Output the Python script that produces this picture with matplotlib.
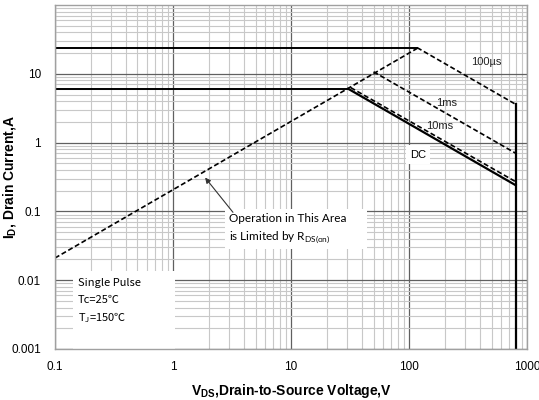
import numpy as np
import matplotlib.pyplot as plt
from matplotlib.patches import Rectangle
from matplotlib.ticker import LogLocator, FixedLocator, NullFormatter

# SOA curves (V, A)
rds_v = [0.1, 120]
rds_i = [0.021, 24]

flat_pulse_v = [0.1, 117]
flat_pulse_i = [24, 24]
flat_dc_v = [0.1, 30.5]
flat_dc_i = [6.05, 6.05]

us100_v = [117, 800]
us100_i = [24, 3.6]
ms1_v = [50, 800]
ms1_i = [10.7, 0.70]
ms10_v = [32, 800]
ms10_i = [6.3, 0.27]
dc_v = [30.5, 800]
dc_i = [6.05, 0.24]

vmax_v = [800, 800]
vmax_i = [3.6, 0.001]

x_ticks = [0.1, 1, 10, 100, 1000]
x_labels = ['0.1', '1', '10', '100', '1000']
y_ticks = [0.001, 0.01, 0.1, 1, 10]
y_labels = ['0.001', '0.01', '0.1', '1', '10']

fig = plt.figure(figsize=(5.39, 4.0), dpi=100)
ax = fig.add_axes([0.102, 0.1275, 0.876, 0.86])
ax.set_xscale('log')
ax.set_yscale('log')
ax.set_xlim(0.1, 1000)
ax.set_ylim(0.001, 100)

ax.xaxis.set_major_locator(FixedLocator(x_ticks))
ax.set_xticklabels(x_labels)
ax.yaxis.set_major_locator(FixedLocator(y_ticks))
ax.set_yticklabels(y_labels)
ax.xaxis.set_minor_locator(LogLocator(base=10, subs=np.arange(2, 10)))
ax.yaxis.set_minor_locator(LogLocator(base=10, subs=np.arange(2, 10)))
ax.xaxis.set_minor_formatter(NullFormatter())
ax.yaxis.set_minor_formatter(NullFormatter())
ax.tick_params(which='both', length=0, labelsize=8.5)
ax.tick_params(axis='x', pad=9)
ax.tick_params(axis='y', pad=10)
for lab in ax.get_xticklabels() + ax.get_yticklabels():
    lab.set_family('Liberation Sans')

ax.grid(which='major', color='#606060', lw=0.9)
ax.grid(which='minor', color='#c8c8c8', lw=0.8)
ax.set_axisbelow(True)
for s in ax.spines.values():
    s.set_color('#a0a0a0')
    s.set_linewidth(1.0)

# white boxes that hide the grid under the notes
ax.add_patch(Rectangle((2.76, 0.028), 44 - 2.76, 0.107 - 0.028,
                       facecolor='white', edgecolor='none', zorder=1.5))
ax.add_patch(Rectangle((0.142, 0.001), 1.04 - 0.142, 0.0135 - 0.001,
                       facecolor='white', edgecolor='none', zorder=1.5))

dash = (0, (3, 1.6))
ax.plot(rds_v, rds_i, color='k', lw=1.2, ls=dash)
ax.plot(flat_pulse_v, flat_pulse_i, color='k', lw=1.4)
ax.plot(flat_dc_v, flat_dc_i, color='k', lw=1.4)
ax.plot(us100_v, us100_i, color='k', lw=1.2, ls=dash)
ax.plot(ms1_v, ms1_i, color='k', lw=1.2, ls=dash)
ax.plot(ms10_v, ms10_i, color='k', lw=1.2, ls=dash)
ax.plot(dc_v, dc_i, color='k', lw=1.6)
ax.plot(vmax_v, vmax_i, color='k', lw=1.6)

lbl = dict(fontsize=8, family='Liberation Sans', color='#222222', va='center')
ax.text(335, 15, '100µs', **lbl)
ax.text(170, 3.8, '1ms', **lbl)
ax.text(139, 1.76, '10ms', **lbl)
ax.text(102, 0.67, 'DC', fontsize=8, family='Liberation Sans', va='center',
        bbox=dict(facecolor='white', edgecolor='none', pad=3))

ax.annotate('', xy=(1.87, 0.31), xytext=(3.22, 0.097),
            arrowprops=dict(arrowstyle='-|>', color='#333333', lw=0.8,
                            shrinkA=0, shrinkB=0, mutation_scale=8))
ax.text(2.98, 0.055, 'Operation in This Area\nis Limited by R$_{\\mathregular{DS(on)}}$',
        fontsize=8.5, family='Lato', linespacing=1.45, va='center', zorder=3)

note = dict(fontsize=8, family='Noto Sans CJK SC', va='center', zorder=3)
ax.text(0.157, 0.00905, 'Single Pulse', **note)
ax.text(0.157, 0.0051, 'Tc=25℃', **note)
ax.text(0.157, 0.0029, 'T$_{\\mathregular{J}}$=150℃', **note)

ax.set_xlabel('V$_{\\mathregular{DS}}$,Drain-to-Source Voltage,V', fontsize=10,
              fontweight='bold', family='Liberation Sans', labelpad=6)
ax.set_ylabel('I$_{\\mathregular{D}}$, Drain Current,A', fontsize=10,
              fontweight='bold', family='Liberation Sans')
ax.yaxis.set_label_coords(-0.078, 0.5)

fig.savefig('out.png', dpi=100)
